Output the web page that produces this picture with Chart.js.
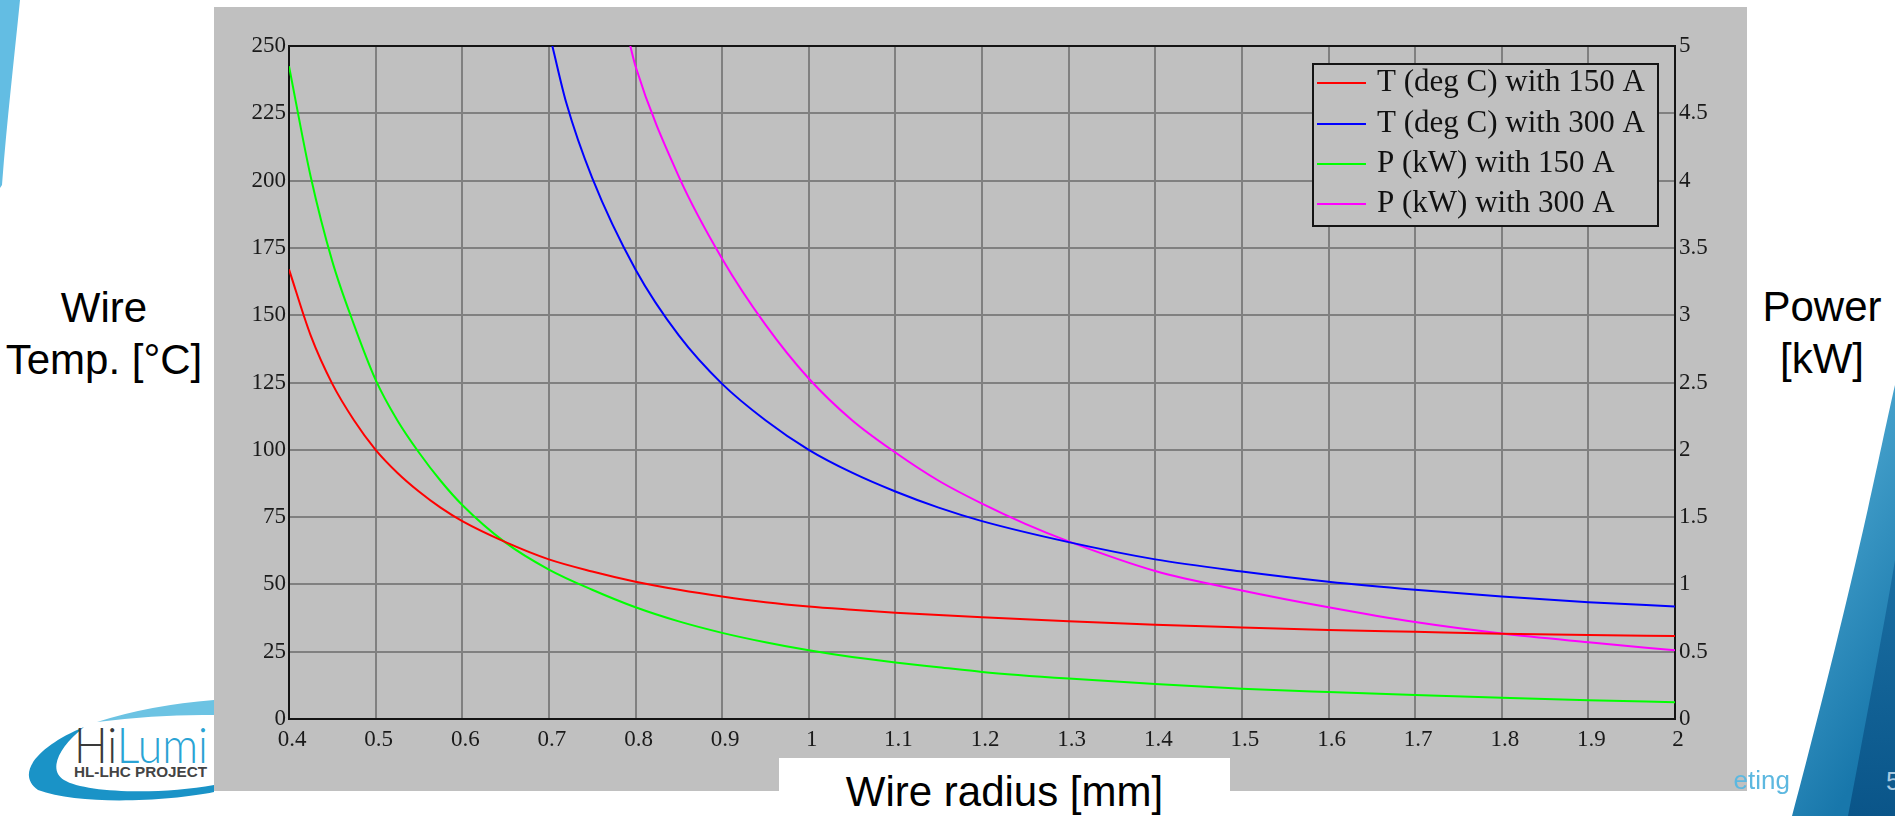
<!DOCTYPE html>
<html>
<head>
<meta charset="utf-8">
<script src="https://cdn.jsdelivr.net/npm/chart.js@4.4.1/dist/chart.umd.min.js"></script>
<style>
  html, body { margin: 0; padding: 0; background: #fff; }
  body { width: 1895px; height: 816px; position: relative; overflow: hidden; font-family: "Liberation Sans", Arial, sans-serif; }
  #deco { position: absolute; left: 0; top: 0; z-index: 0; }
  #plotBox { position: absolute; left: 214px; top: 7px; width: 1533px; height: 784px; background: #c0c0c0; z-index: 1; }
  #plotBox canvas { display: block; }
  .sideLabel { position: absolute; z-index: 2; font-size: 42px; line-height: 52px; text-align: center; color: #000; }
  #leftLabel { left: 0; top: 282px; width: 208px; }
  #rightLabel { left: 1749px; top: 281px; width: 146px; }
  #xLabel { position: absolute; z-index: 2; left: 779px; top: 758px; width: 451px; height: 58px; background: #fff;
            font-size: 42px; line-height: 42px; text-align: center; padding-top: 13px; box-sizing: border-box; }
  #footer { position: absolute; z-index: 2; left: 1734px; top: 764px; width: 60px; height: 34px; overflow: hidden; }
  #footer span { position: absolute; right: 4px; top: 0; white-space: nowrap; font-size: 26px; line-height: 32px; color: #5db8e0; }
</style>
</head>
<body>

<svg id="deco" width="1895" height="816">
  <defs>
    <linearGradient id="swoosh" x1="0" y1="0" x2="0.4" y2="1">
      <stop offset="0" stop-color="#5cb6dc"/>
      <stop offset="1" stop-color="#1877ab"/>
    </linearGradient>
    <linearGradient id="swooshDark" x1="0" y1="0" x2="0" y2="1">
      <stop offset="0" stop-color="#1a6fa3"/>
      <stop offset="1" stop-color="#0a5589"/>
    </linearGradient>
  </defs>
  <!-- top-left sliver -->
  <path d="M0 0 L20 0 C14 60 7 120 2 185 L0 188 Z" fill="#63bde3"/>
  <!-- bottom-right swoosh -->
  <path d="M1895 385 C1880 450 1860 560 1792 816 L1895 816 Z" fill="url(#swoosh)"/>
  <path d="M1895 560 C1885 620 1870 700 1848 816 L1895 816 Z" fill="url(#swooshDark)"/>
  <text x="1886" y="790" font-family="Liberation Sans, Arial" font-size="26" fill="#a9c9e0">5</text>
  <!-- HiLumi logo -->
  <path d="M97 722 Q150 705 214 700 L214 715 Q160 714 97 722 Z" fill="#6cc3e3"/>
  <path d="M84 727 C40 745 14 773 38 790 C80 806 170 801 214 792 L214 785 C160 795 85 793 64 780 C48 770 58 748 84 727 Z" fill="#1a93c7"/>
  <text x="74" y="763" font-family="Lato, Liberation Sans" font-weight="300" font-size="50" textLength="134" lengthAdjust="spacingAndGlyphs"><tspan fill="#3a3a3a">Hi</tspan><tspan fill="#2aa3d4">Lumi</tspan></text>
  <text x="74" y="777" font-family="Liberation Sans, Arial" font-weight="bold" font-size="15" fill="#444" textLength="133" lengthAdjust="spacingAndGlyphs">HL-LHC  PROJECT</text>
</svg>

<div id="plotBox"><canvas id="chart" width="1533" height="784"></canvas></div>

<div id="leftLabel" class="sideLabel">Wire<br>Temp. [°C]</div>
<div id="rightLabel" class="sideLabel">Power<br>[kW]</div>
<div id="xLabel">Wire radius [mm]</div>
<div id="footer"><span>Meeting</span></div>

<script>
// Series names, in legend order
const seriesNames = ['T (deg C) with 150 A', 'T (deg C) with 300 A', 'P (kW) with 150 A', 'P (kW) with 300 A'];
const seriesColors = ['#ff0000', '#0000ff', '#00ff00', '#ff00ff'];

// 150 A curves (radius in mm)
const radius150 = [0.40, 0.425, 0.45, 0.475, 0.50, 0.525, 0.55, 0.575, 0.60, 0.65, 0.70, 0.75, 0.80, 0.85, 0.90, 0.95, 1.00, 1.05, 1.10, 1.15, 1.20, 1.30, 1.40, 1.50, 1.60, 1.70, 1.80, 1.90, 2.00];
const temp150 = [167, 142.5, 124.5, 111, 100, 91.5, 84.5, 78.5, 73.5, 65.7, 59.3, 54.8, 51, 48, 45.5, 43.4, 41.8, 40.6, 39.5, 38.6, 37.8, 36.3, 35.0, 34.0, 33.1, 32.4, 31.7, 31.2, 30.8];
const power150 = [4.85, 4.03, 3.40, 2.93, 2.52, 2.22, 1.98, 1.77, 1.59, 1.31, 1.11, 0.96, 0.83, 0.725, 0.64, 0.57, 0.51, 0.46, 0.42, 0.385, 0.35, 0.30, 0.26, 0.225, 0.20, 0.178, 0.158, 0.14, 0.125];

// 300 A curves (they enter the plot from the top)
const radius300T = [0.704, 0.72, 0.75, 0.80, 0.85, 0.90, 0.95, 1.00, 1.05, 1.10, 1.15, 1.20, 1.30, 1.40, 1.50, 1.60, 1.70, 1.80, 1.90, 2.00];
const temp300 = [250, 229, 201, 167, 142.5, 124.5, 111, 100, 91.5, 84.5, 78.5, 73.5, 65.7, 59.3, 54.8, 51, 48, 45.5, 43.4, 41.8];
const radius300P = [0.794, 0.80, 0.85, 0.90, 0.95, 1.00, 1.05, 1.10, 1.15, 1.20, 1.25, 1.30, 1.40, 1.50, 1.60, 1.70, 1.80, 1.90, 2.00];
const power300 = [5.0, 4.85, 4.03, 3.42, 2.93, 2.53, 2.22, 1.98, 1.77, 1.60, 1.45, 1.32, 1.10, 0.955, 0.83, 0.72, 0.635, 0.57, 0.51];

// Tick values
const radiusTicks = [0.4, 0.5, 0.6, 0.7, 0.8, 0.9, 1, 1.1, 1.2, 1.3, 1.4, 1.5, 1.6, 1.7, 1.8, 1.9, 2];
const tempTicks = [0, 25, 50, 75, 100, 125, 150, 175, 200, 225, 250];
const powerTicks = [0, 0.5, 1, 1.5, 2, 2.5, 3, 3.5, 4, 4.5, 5];

const tickFont = { family: '"Liberation Serif", "Times New Roman", serif', size: 23 };
const tickColor = '#1a1a1a';

function pairs(xs, ys) {
    return xs.map((x, i) => ({ x: x, y: ys[i] }));
}

function fixedTicks(values) {
    return function (scale) {
        scale.ticks = values.map(v => ({ value: v }));
    };
}

// Black frame round the plot area
const framePlugin = {
    id: 'frame',
    beforeDatasetsDraw: (chart) => {
        const { ctx, chartArea: { left, top, right, bottom } } = chart;
        ctx.save();
        ctx.strokeStyle = '#141414';
        ctx.lineWidth = 2;
        ctx.strokeRect(left, top, right - left, bottom - top);
        ctx.restore();
    }
};

// Boxed legend in the top right corner
const boxLegendPlugin = {
    id: 'boxLegend',
    afterDraw: (chart) => {
        const { ctx, chartArea } = chart;
        const w = 345, h = 162;
        const x0 = chartArea.right - 17 - w;
        const y0 = chartArea.top + 18;
        const rows = [19, 60, 100, 140];
        ctx.save();
        ctx.fillStyle = '#c0c0c0';
        ctx.fillRect(x0, y0, w, h);
        ctx.strokeStyle = '#141414';
        ctx.lineWidth = 2;
        ctx.strokeRect(x0, y0, w, h);
        ctx.font = '31px "Liberation Serif", "Times New Roman", serif';
        ctx.textBaseline = 'middle';
        ctx.textAlign = 'left';
        chart.data.datasets.forEach((ds, i) => {
            const y = y0 + rows[i];
            ctx.strokeStyle = ds.borderColor;
            ctx.lineWidth = 2;
            ctx.beginPath();
            ctx.moveTo(x0 + 4, y);
            ctx.lineTo(x0 + 53, y);
            ctx.stroke();
            ctx.fillStyle = '#111';
            ctx.fillText(ds.label, x0 + 64, y);
        });
        ctx.restore();
    }
};

const lineStyle = {
    borderWidth: 2,
    pointRadius: 0,
    fill: false,
    cubicInterpolationMode: 'monotone'
};

new Chart(document.getElementById('chart'), {
    type: 'line',
    plugins: [framePlugin, boxLegendPlugin],
    data: {
        datasets: [
            { ...lineStyle, label: seriesNames[0], borderColor: seriesColors[0], data: pairs(radius150, temp150), yAxisID: 'y' },
            { ...lineStyle, label: seriesNames[1], borderColor: seriesColors[1], data: pairs(radius300T, temp300), yAxisID: 'y' },
            { ...lineStyle, label: seriesNames[2], borderColor: seriesColors[2], data: pairs(radius150, power150), yAxisID: 'y1' },
            { ...lineStyle, label: seriesNames[3], borderColor: seriesColors[3], data: pairs(radius300P, power300), yAxisID: 'y1' }
        ]
    },
    options: {
        responsive: false,
        devicePixelRatio: 1,
        animation: false,
        events: [],
        layout: { padding: { top: 39, left: 0, right: 0, bottom: 0 } },
        plugins: {
            legend: { display: false },
            tooltip: { enabled: false }
        },
        scales: {
            x: {
                type: 'linear',
                min: 0.4,
                max: 2,
                afterBuildTicks: fixedTicks(radiusTicks),
                afterFit: (s) => { s.height = 72; s.paddingLeft = 0; s.paddingRight = 0; },
                grid: { color: '#808080', lineWidth: 2, drawTicks: false },
                border: { display: false },
                ticks: { font: tickFont, color: tickColor, padding: 7, labelOffset: 3, maxRotation: 0, autoSkip: false, callback: (v) => String(v) }
            },
            y: {
                position: 'left',
                min: 0,
                max: 250,
                afterBuildTicks: fixedTicks(tempTicks),
                afterFit: (s) => { s.width = 75; s.paddingTop = 0; s.paddingBottom = 0; },
                grid: { color: '#808080', lineWidth: 2, drawTicks: false },
                border: { display: false },
                ticks: { font: tickFont, color: tickColor, padding: 3, autoSkip: false, callback: (v) => String(v) }
            },
            y1: {
                position: 'right',
                min: 0,
                max: 5,
                afterBuildTicks: fixedTicks(powerTicks),
                afterFit: (s) => { s.width = 72; s.paddingTop = 0; s.paddingBottom = 0; },
                grid: { display: false, drawTicks: false },
                border: { display: false },
                ticks: { font: tickFont, color: tickColor, padding: 4, autoSkip: false, callback: (v) => String(v) }
            }
        }
    }
});
</script>
</body>
</html>
